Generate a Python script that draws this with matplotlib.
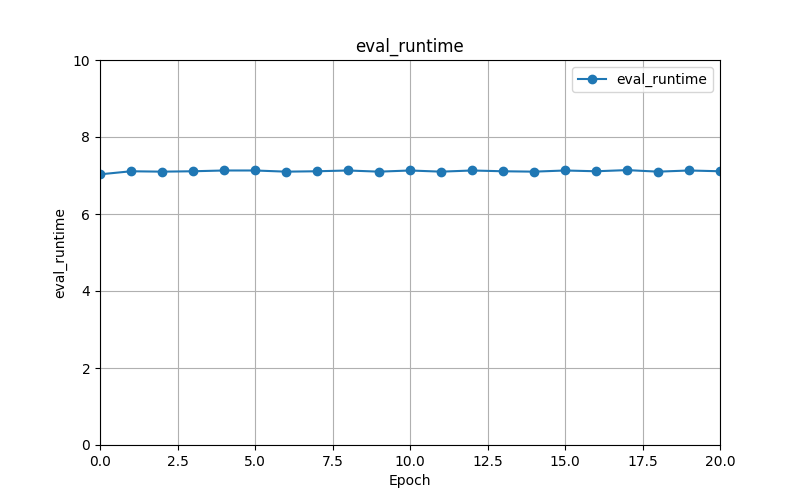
import matplotlib
matplotlib.use('Agg')
import matplotlib.pyplot as plt

# Epoch numbers and eval runtime
epochs = list(range(21))
eval_runtime = [7.03, 7.11, 7.10, 7.11, 7.13, 7.13, 7.10, 7.11, 7.13, 7.10,
                7.13, 7.10, 7.13, 7.11, 7.10, 7.13, 7.11, 7.14, 7.10, 7.13, 7.11]

plt.figure(figsize=(8, 5), dpi=100)
plt.plot(epochs, eval_runtime, marker='o', label='eval_runtime')
plt.title('eval_runtime')
plt.xlabel('Epoch')
plt.ylabel('eval_runtime')
plt.xlim(0, 20)
plt.ylim(0, 10)
plt.grid(True)
plt.legend()
plt.savefig('out.png')
